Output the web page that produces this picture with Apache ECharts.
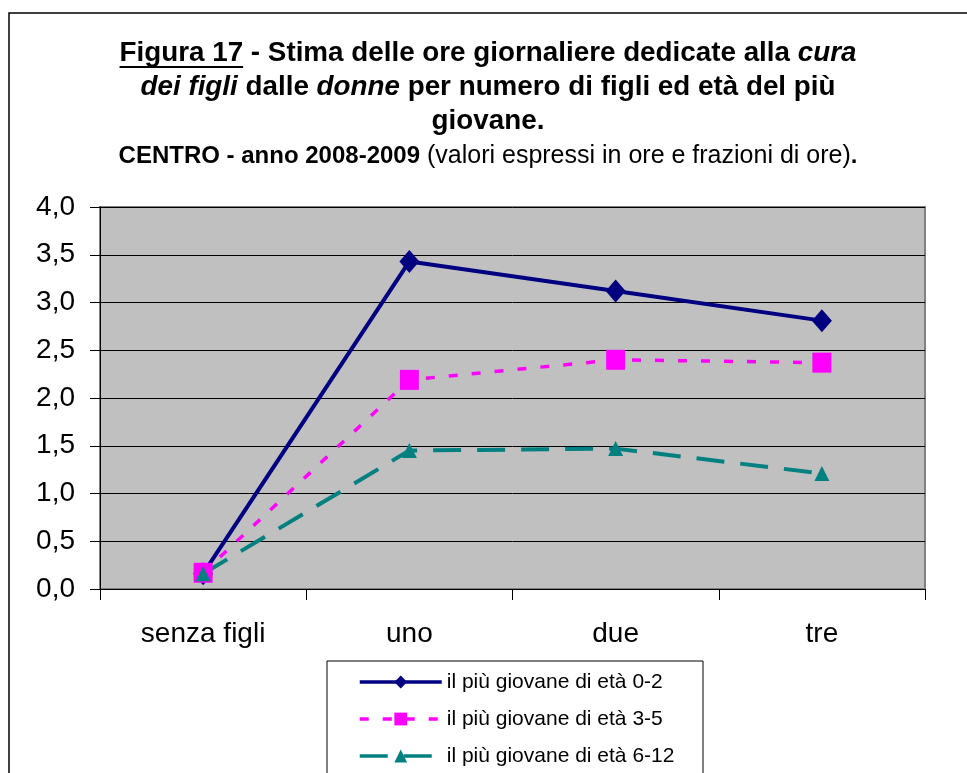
<!DOCTYPE html>
<html>
<head>
<meta charset="utf-8">
<script src="https://cdn.jsdelivr.net/npm/echarts@6/dist/echarts.min.js"></script>
<style>
html,body{margin:0;padding:0;background:#fff;}
#chart{width:967px;height:773px;}
</style>
</head>
<body>
<div id="chart"></div>
<script>
// ---- data ----
const categories = ['senza figli', 'uno', 'due', 'tre'];
const seriesNames = ['il più giovane di età 0-2', 'il più giovane di età 3-5', 'il più giovane di età 6-12'];
const age0_2 = [0.16, 3.43, 3.12, 2.81];
const age3_5 = [0.17, 2.19, 2.40, 2.37];
const age6_12 = [0.16, 1.45, 1.47, 1.21];
const yTicks = [0, 0.5, 1.0, 1.5, 2.0, 2.5, 3.0, 3.5, 4.0];

const FONT = '"Liberation Sans", Arial, sans-serif';
const titleSize = 27.8;
const subSize = 24;

// measure text for underline position
const ctx = document.createElement('canvas').getContext('2d');
function tw(txt, style) { ctx.font = style; return ctx.measureText(txt).width; }
const bold = 'bold ' + titleSize + 'px ' + FONT;
const boldItal = 'italic bold ' + titleSize + 'px ' + FONT;
const cx = 488;
const l1a = 'Figura 17', l1b = ' - Stima delle ore giornaliere dedicate alla ', l1c = 'cura';
const w1 = tw(l1a, bold) + tw(l1b, bold) + tw(l1c, boldItal);
const ulX1 = cx - w1 / 2, ulX2 = ulX1 + tw(l1a, bold);

const chart = echarts.init(document.getElementById('chart'), null, {renderer: 'canvas'});
const rich = {
  b: {fontFamily: FONT, fontWeight: 'bold', fontSize: titleSize, color: '#000'},
  bi: {fontFamily: FONT, fontWeight: 'bold', fontStyle: 'italic', fontSize: titleSize, color: '#000'},
  sb: {fontFamily: FONT, fontWeight: 'bold', fontSize: subSize, color: '#000'},
  sn: {fontFamily: FONT, fontWeight: 'normal', fontSize: 25, color: '#000'}
};
function tline(text, y) {
  return {type: 'text', x: cx, y: y, z: 10,
    style: {text: text, rich: rich, align: 'center', verticalAlign: 'middle', fill: '#000', font: bold}};
}

const option = {
  animation: false,
  backgroundColor: '#fff',
  grid: {left: 100, right: 42, top: 207, bottom: 184, show: true, backgroundColor: '#c0c0c0', borderColor: '#808080', borderWidth: 2},
  graphic: [
    {type: 'rect', shape: {x: 9, y: 13, width: 1000, height: 800}, style: {fill: 'none', stroke: '#000', lineWidth: 1.5}, z: -10},
    tline('{b|' + l1a + '}{b|' + l1b + '}{bi|' + l1c + '}', 53),
    tline('{bi|dei figli}{b| dalle }{bi|donne}{b| per numero di figli ed età del più}', 87.5),
    tline('{b|giovane.}', 121.5),
    tline('{sb|CENTRO - anno 2008-2009}{sn| (valori espressi in ore e frazioni di ore)}{sb|.}', 156),
    {type: 'line', shape: {x1: ulX1, y1: 67, x2: ulX2, y2: 67}, style: {stroke: '#000', lineWidth: 2}, z: 10},
    {type: 'rect', shape: {x: 327, y: 661, width: 376, height: 200}, style: {fill: '#fff', stroke: '#000', lineWidth: 1}, z: 5}
  ],
  legend: {
    orient: 'vertical', left: 358, top: 671, padding: 0, z: 20,
    itemWidth: 82, itemHeight: 16, itemGap: 15,
    lineStyle: {width: 3.5},
    textStyle: {fontFamily: FONT, fontSize: 21, color: '#000', lineHeight: 22},
    data: seriesNames
  },
  xAxis: {
    type: 'category', data: categories, boundaryGap: true,
    axisLine: {show: true, lineStyle: {color: '#000', width: 1}},
    axisTick: {show: true, length: 11, lineStyle: {color: '#000'}},
    axisLabel: {fontFamily: FONT, fontSize: 28, color: '#000', margin: 31},
    splitLine: {show: false}
  },
  yAxis: {
    type: 'value', min: 0, max: 4, interval: 0.5,
    axisLine: {show: true, lineStyle: {color: '#000', width: 1}},
    axisTick: {show: true, length: 10, lineStyle: {color: '#000'}},
    axisLabel: {fontFamily: FONT, fontSize: 28, color: '#000', margin: 25,
      formatter: function (v) { return yTicks.indexOf(v) >= 0 ? v.toFixed(1).replace('.', ',') : ''; }},
    splitLine: {show: true, lineStyle: {color: '#000', width: 1}}
  },
  series: [
    {name: seriesNames[0], type: 'line', data: age0_2, symbol: 'diamond', symbolSize: [20, 23],
      lineStyle: {color: '#000080', width: 4, type: 'solid'}, itemStyle: {color: '#000080'}},
    {name: seriesNames[1], type: 'line', data: age3_5, symbol: 'rect', symbolSize: [19, 20],
      lineStyle: {color: '#ff00ff', width: 3.5, type: [9, 14]}, itemStyle: {color: '#ff00ff'}},
    {name: seriesNames[2], type: 'line', data: age6_12, symbol: 'triangle', symbolSize: [15, 15],
      lineStyle: {color: '#008080', width: 4, type: [28, 16]}, itemStyle: {color: '#008080'}}
  ]
};
chart.setOption(option);
</script>
</body>
</html>
